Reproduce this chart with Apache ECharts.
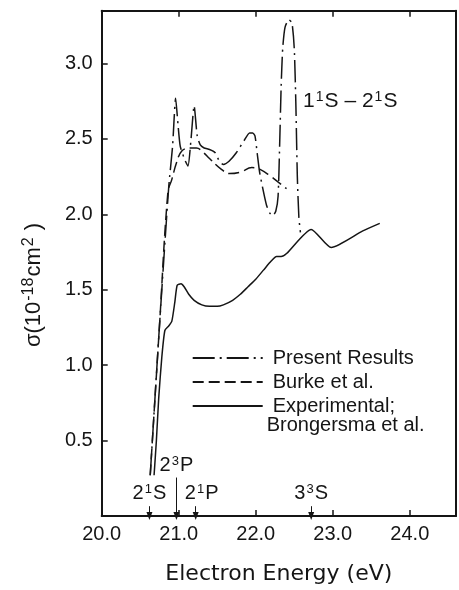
<!DOCTYPE html>
<html>
<head>
<meta charset="utf-8">
<script src="https://cdn.jsdelivr.net/npm/echarts@6/dist/echarts.min.js"></script>
<style>
html,body{margin:0;padding:0;background:#fff;}
#chart{width:459px;height:590px;}
</style>
</head>
<body>
<div id="chart"></div>
<script>
// ---- data ----
const presentE = [20.63, 20.75, 20.87, 20.92, 20.96, 20.99, 21.02, 21.08, 21.12, 21.16, 21.20, 21.24, 21.28, 21.33, 21.40, 21.47, 21.53, 21.58, 21.65, 21.75, 21.85, 21.92, 21.96, 21.99, 22.02, 22.05, 22.10, 22.14, 22.18, 22.22, 22.26, 22.29, 22.31, 22.33, 22.35, 22.38, 22.43, 22.47, 22.50, 22.52, 22.54, 22.56, 22.58];
const presentS = [0.27, 1.26, 2.18, 2.45, 2.77, 2.60, 2.45, 2.36, 2.32, 2.50, 2.72, 2.52, 2.46, 2.44, 2.43, 2.41, 2.35, 2.33, 2.35, 2.41, 2.49, 2.54, 2.54, 2.52, 2.40, 2.28, 2.15, 2.06, 2.01, 1.99, 2.02, 2.12, 2.45, 2.85, 3.10, 3.24, 3.29, 3.27, 3.10, 2.75, 2.25, 1.98, 1.88];

const burkeE = [20.63, 20.75, 20.86, 20.91, 20.97, 21.04, 21.15, 21.23, 21.32, 21.40, 21.55, 21.66, 21.80, 21.95, 22.05, 22.20, 22.30, 22.40];
const burkeS = [0.27, 1.26, 2.15, 2.23, 2.34, 2.42, 2.44, 2.44, 2.41, 2.37, 2.30, 2.27, 2.28, 2.31, 2.30, 2.25, 2.21, 2.17];

const exptE = [20.68, 20.71, 20.74, 20.78, 20.82, 20.87, 20.91, 20.95, 20.98, 21.03, 21.07, 21.13, 21.20, 21.30, 21.40, 21.50, 21.58, 21.70, 21.80, 21.90, 22.00, 22.10, 22.20, 22.27, 22.33, 22.40, 22.72, 22.98, 23.39, 23.61];
const exptS = [0.27, 0.50, 0.78, 1.05, 1.23, 1.26, 1.29, 1.42, 1.53, 1.54, 1.52, 1.47, 1.43, 1.40, 1.39, 1.39, 1.40, 1.43, 1.47, 1.52, 1.57, 1.63, 1.69, 1.72, 1.72, 1.74, 1.90, 1.78, 1.89, 1.94];

// threshold markers: energy, top of arrow (sigma), label
const thresholdE = [20.62, 20.97, 21.22, 22.72];
const thresholdTop = [0.065, 0.255, 0.065, 0.065];
const thresholdLabels = ['2{s|1}S', '2{s|3}P', '2{s|1}P', '3{s|3}S'];

const xTicks = [20, 21, 22, 23, 24];
const yTicks = [0.5, 1.0, 1.5, 2.0, 2.5, 3.0];
const seriesNames = ['Present Results', 'Burke et al.', 'Experimental;'];

// ---- chart ----
const FONT = 'Liberation Sans';
const INK = '#151515';
const zip = (a, b) => a.map((v, i) => [v, b[i]]);
const near = (v, arr) => arr.some(t => Math.abs(t - v) < 1e-6);

const labelRich = {
  s: { fontSize: 13, fontFamily: FONT, color: INK, verticalAlign: 'top', padding: [0, 1, 8, 1] },
};

const markLineData = thresholdE.map((e, i) => [
  { coord: [e, thresholdTop[i]],
    label: { formatter: thresholdLabels[i], offset: i === 2 ? [6, 0] : [0, 0] } },
  { coord: [e, 0] }
]);

const axisLineStyle = { show: true, onZero: false, lineStyle: { color: INK, width: 2 } };
const tickStyle = { show: true, inside: true, length: 6, lineStyle: { color: INK, width: 1.5 } };

const chart = echarts.init(document.getElementById('chart'), null, { renderer: 'canvas' });
chart.setOption({
  animation: false,
  backgroundColor: '#fff',
  grid: { left: 101.7, top: 10.7, width: 355.6, height: 510, containLabel: false },
  xAxis: [{
    type: 'value', min: 20, max: 24.6, interval: 1, position: 'bottom',
    axisLine: axisLineStyle, axisTick: tickStyle,
    splitLine: { show: false },
    axisLabel: { margin: 8, color: INK, fontFamily: FONT, fontSize: 20,
      formatter: v => near(v, xTicks) ? v.toFixed(1) : '' },
    name: 'Electron Energy (eV)', nameLocation: 'middle', nameGap: 47,
    nameTextStyle: { fontFamily: 'DejaVu Sans', fontSize: 22, color: INK }
  }, {
    type: 'value', min: 20, max: 24.6, interval: 1, position: 'top',
    axisLine: axisLineStyle, axisTick: tickStyle,
    splitLine: { show: false }, axisLabel: { show: false }
  }],
  yAxis: [{
    type: 'value', min: 0, max: 3.35, interval: 0.5, position: 'left',
    axisLine: axisLineStyle, axisTick: tickStyle,
    splitLine: { show: false },
    axisLabel: { margin: 9, color: INK, fontFamily: FONT, fontSize: 20, showMaxLabel: false,
      formatter: v => near(v, yTicks) ? v.toFixed(1) : '' }
  }, {
    type: 'value', min: 0, max: 3.35, interval: 0.5, position: 'right',
    axisLine: axisLineStyle,
    axisTick: { show: false }, splitLine: { show: false }, axisLabel: { show: false }
  }],
  legend: {
    orient: 'vertical', left: 186.7, top: 343,
    itemWidth: 70, itemHeight: 14, itemGap: 4,
    selectedMode: false,
    itemStyle: { opacity: 0 },
    data: seriesNames.map(n => ({ name: n })),
    textStyle: { fontFamily: FONT, fontSize: 20, color: INK, lineHeight: 20, padding: [0, 0, 0, 5] }
  },
  graphic: [{
    type: 'text', x: 266.7, y: 425,
    style: { text: 'Brongersma et al.', fontFamily: FONT, fontSize: 20, fill: INK,
      align: 'left', verticalAlign: 'middle' }
  }, {
    type: 'text', x: 34, y: 285, rotation: Math.PI / 2,
    style: {
      text: '{m|σ(10}{s|-18}{m|cm}{s|2}{m| )}',
      align: 'center', verticalAlign: 'middle', fill: INK,
      rich: {
        m: { fontFamily: FONT, fontSize: 22, fill: INK, color: INK },
        s: { fontFamily: FONT, fontSize: 16, fill: INK, color: INK, verticalAlign: 'top', padding: [0, 1, 10, 1] }
      }
    }
  }],
  series: [{
    name: seriesNames[0], type: 'line', xAxisIndex: 0, yAxisIndex: 0,
    data: zip(presentE, presentS), symbol: 'none', smooth: 0.2,
    lineStyle: { color: INK, width: 1.5, type: [22, 5, 2, 5] },
    itemStyle: { color: INK },
    markPoint: {
      silent: true, symbol: 'circle', symbolSize: 0,
      data: [{ coord: [22.615, 2.75] }],
      label: { show: true, position: 'right', distance: 0, color: INK,
        fontFamily: FONT, fontSize: 21, formatter: '1{s|1}S – 2{s|1}S',
        rich: { s: { fontSize: 14, fontFamily: FONT, color: INK, verticalAlign: 'top', padding: [0, 1, 8, 1] } } }
    }
  }, {
    name: seriesNames[1], type: 'line', xAxisIndex: 0, yAxisIndex: 0,
    data: zip(burkeE, burkeS), symbol: 'none', smooth: 0.4,
    lineStyle: { color: INK, width: 1.5, type: [11, 5] },
    itemStyle: { color: INK }
  }, {
    name: seriesNames[2], type: 'line', xAxisIndex: 0, yAxisIndex: 0,
    data: zip(exptE, exptS), symbol: 'none', smooth: 0.2,
    lineStyle: { color: INK, width: 1.5, type: 'solid' },
    itemStyle: { color: INK },
    markLine: {
      silent: true, symbol: ['none', 'triangle'], symbolSize: [6, 8],
      lineStyle: { color: INK, width: 1, type: 'solid' },
      label: { show: true, position: 'start', distance: 2, color: INK,
        fontFamily: FONT, fontSize: 20, rich: labelRich },
      data: markLineData
    }
  }]
});
</script>
</body>
</html>
